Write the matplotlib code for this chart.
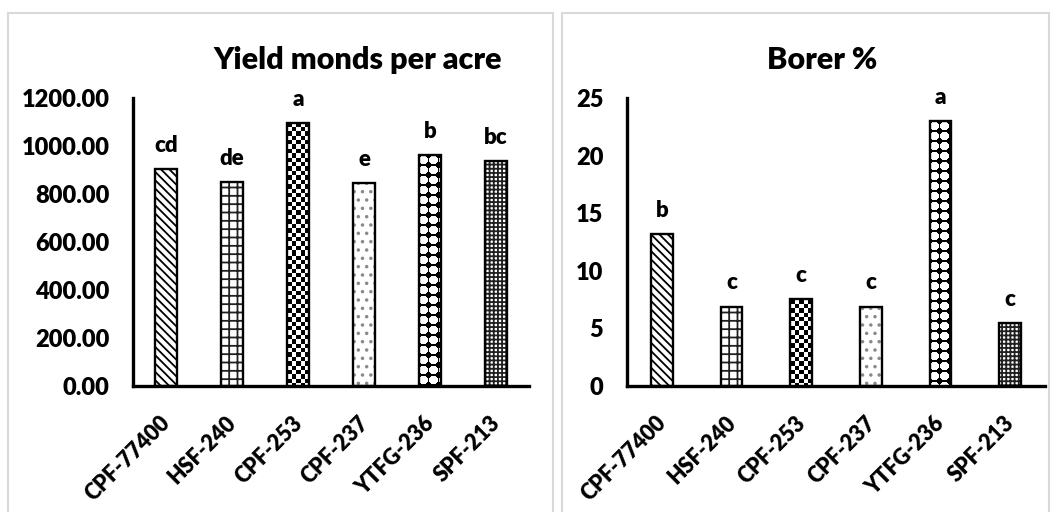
"""Yield and borer % per variety, two bar panels with hatched bars."""

import numpy as np
import matplotlib
matplotlib.use("Agg")
import matplotlib.pyplot as plt
from matplotlib.patches import Rectangle
from matplotlib.transforms import ScaledTranslation

plt.rcParams["font.family"] = ["Lato", "DejaVu Sans"]
plt.rcParams["font.weight"] = "heavy"
plt.rcParams["hatch.linewidth"] = 1.3

varieties = ["CPF-77400", "HSF-240", "CPF-253", "CPF-237", "YTFG-236", "SPF-213"]
yield_vals = [903, 849, 1097, 845, 961, 939]
yield_letters = ["cd", "de", "a", "e", "b", "bc"]
borer_vals = [13.2, 6.9, 7.55, 6.9, 23.0, 5.5]
borer_letters = ["b", "c", "c", "c", "a", "c"]

W, H = 1055, 512
fig = plt.figure(figsize=(W / 100, H / 100), dpi=100)


def fx(px):
    return px / W


def fy(py):
    return 1 - py / H


# light grey chart-area frames
for x0, x1 in [(8, 553), (562, 1049)]:
    fig.patches.append(Rectangle((fx(x0), fy(520)), fx(x1 - x0), fy(13) - fy(520),
                                 transform=fig.transFigure, fill=False,
                                 edgecolor="#d9d9d9", lw=1.5, zorder=0))


def texture(kind, w, h):
    j, i = np.meshgrid(np.arange(w), np.arange(h))
    if kind == "checker":
        c = 4.4
        return ((np.floor(i / c) + np.floor(j / c)) % 2).astype(float)
    # white round dots on black
    c = 10.0
    dx = (j + 1.0) % c - c / 2
    dy = (i + 0.5) % c - c / 2
    return (dx ** 2 + dy ** 2 <= (c * 0.44) ** 2).astype(float)


STYLES = [
    dict(hatch="\\\\\\\\", color="black"),
    dict(hatch="++", color="#202020"),
    dict(tex="checker"),
    dict(hatch="..", color="#8a8a8a"),
    dict(tex="dots"),
    dict(hatch="++++", color="#202020"),
]


def panel(rect, values, letters, ymax, ystep, fmt, title, title_x, width):
    ax = fig.add_axes(rect)
    x = np.arange(len(varieties))
    bars = ax.bar(x, values, width, color="white", edgecolor="none", zorder=2)
    ax.set_xlim(-0.5, len(varieties) - 0.5)
    ax.set_ylim(0, ymax)
    for b, st in zip(bars, STYLES):
        if "hatch" in st:
            b.set_hatch(st["hatch"])
            b.set_edgecolor(st["color"])
            b.set_linewidth(0)
        else:
            bb = b.get_window_extent()
            img = texture(st["tex"], int(round(bb.width)), int(round(bb.height)))
            im = ax.imshow(img, cmap="gray", vmin=0, vmax=1, origin="upper",
                           interpolation="nearest", aspect="auto", zorder=3,
                           extent=(b.get_x(), b.get_x() + b.get_width(), 0, b.get_height()))
            im.set_clip_path(b)
    ax.bar(x, values, width, fill=False, edgecolor="black", lw=1.7, zorder=4)
    ax.set_xlim(-0.5, len(varieties) - 0.5)
    ax.set_ylim(0, ymax)
    ax.set_aspect("auto")

    for xi, v, lab in zip(x, values, letters):
        ax.annotate(lab, (xi, v), xytext=(0, 17), textcoords="offset points",
                    ha="center", va="center", fontsize=16, fontweight="heavy")

    ticks = np.arange(0, ymax + ystep / 2, ystep)
    ax.set_yticks(ticks)
    ax.set_yticklabels([fmt.format(t) for t in ticks])
    ax.set_xticks(x)
    ax.set_xticklabels(varieties, rotation=45, ha="right", va="top")
    ax.tick_params(axis="y", length=0, pad=17, labelsize=17)
    ax.tick_params(axis="x", length=0, pad=19, labelsize=15.5)
    shift = ScaledTranslation(6 / 72, 0, fig.dpi_scale_trans)
    for t in ax.get_xticklabels():
        t.set_transform(t.get_transform() + shift)
    for t in ax.get_xticklabels() + ax.get_yticklabels():
        t.set_fontweight("heavy")
    ax.spines[["top", "right"]].set_visible(False)
    for s in ("left", "bottom"):
        ax.spines[s].set_linewidth(2.4)
    fig.text(fx(title_x), fy(69), title, ha="center", va="baseline",
             fontsize=22, fontweight="heavy")
    return ax


panel([fx(133), fy(386), fx(396), fy(98) - fy(386)], yield_vals, yield_letters,
      1200, 200, "{:.2f}", "Yield monds per acre", 358, 0.33)
panel([fx(627), fy(386), fx(418), fy(98) - fy(386)], borer_vals, borer_letters,
      25, 5, "{:.0f}", "Borer %", 822, 0.31)

fig.savefig("out.png", dpi=100)
